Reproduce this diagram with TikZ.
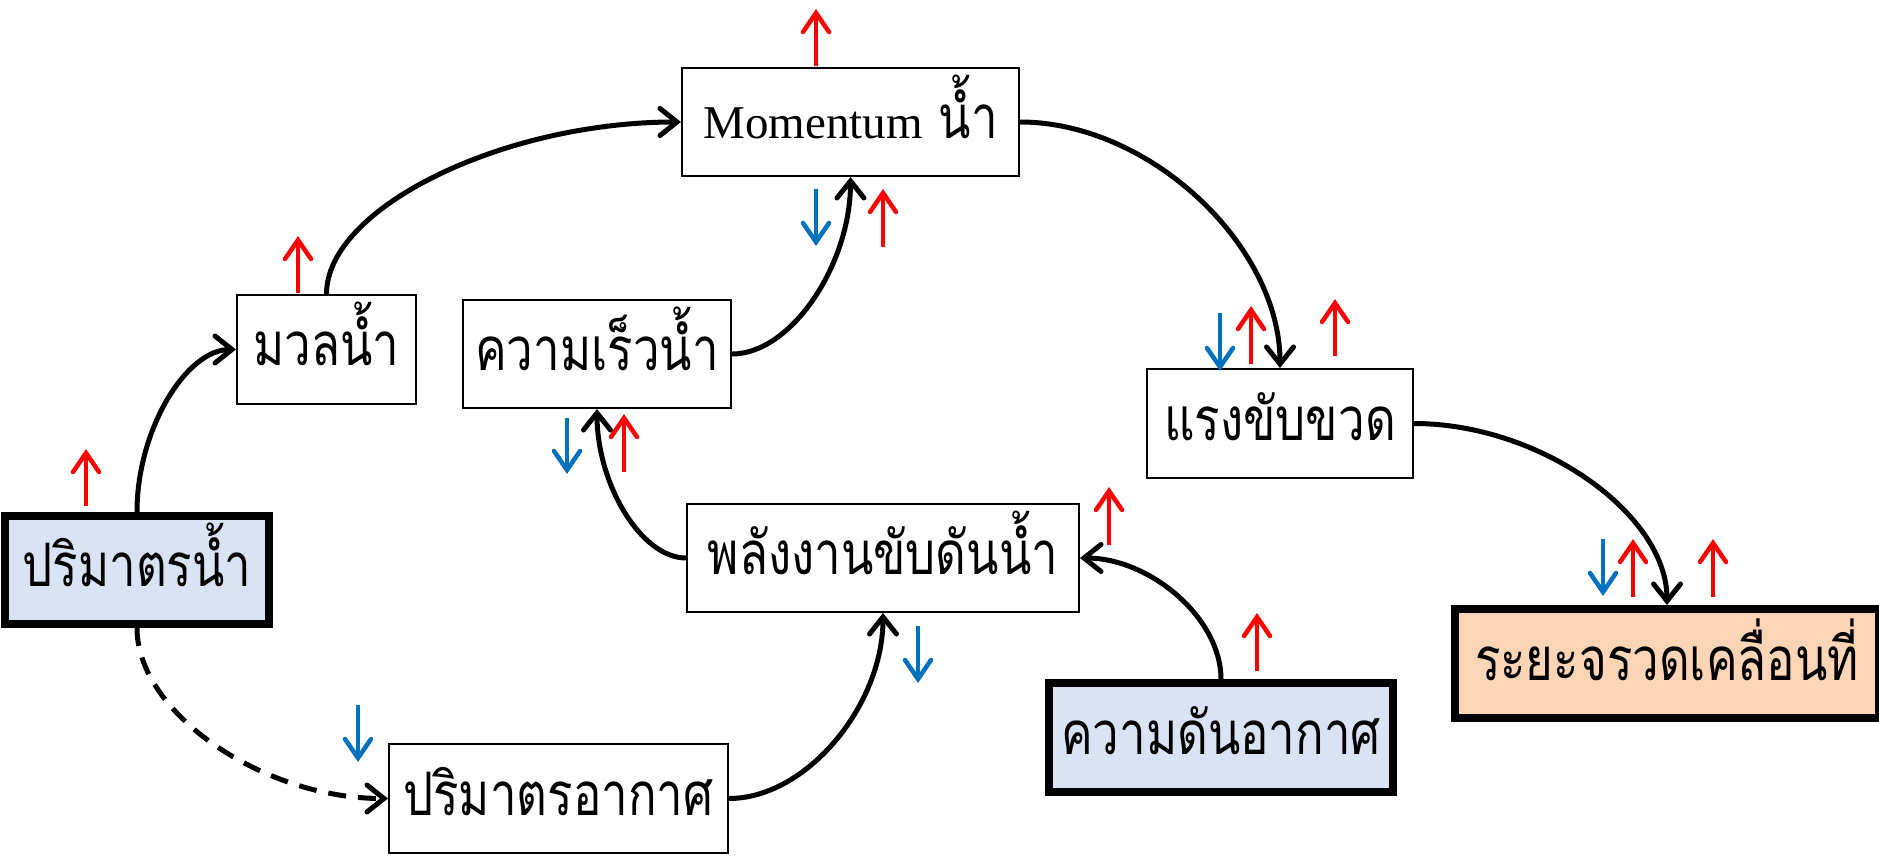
\documentclass[tikz,border=0pt]{standalone}
\usepackage{fontspec}
\setmainfont{Liberation Serif}
\newfontfamily\thai[Script=Thai,FakeStretch=0.79]{Loma}
\usetikzlibrary{arrows.meta}

\definecolor{inbox}{HTML}{DAE3F3}
\definecolor{outbox}{HTML}{FBD5B5}
\definecolor{upred}{HTML}{FF0000}
\definecolor{downblue}{HTML}{0070C0}

\tikzset{
  box/.style={draw, line width=2pt, inner sep=0pt, text height=40pt, text depth=7pt,
    font=\thai\fontsize{60pt}{70pt}\selectfont},
  keybox/.style={box, line width=8pt},
  link/.style={line width=5pt, -{Straight Barb[length=17pt,width=27pt,line cap=round]}},
  incr/.style={upred, line width=4.5pt, -{Straight Barb[length=19pt,width=26pt,line cap=round]}},
  decr/.style={incr, downblue},
}

\begin{document}
\begin{tikzpicture}[x=1pt, y=-1pt]
	\useasboundingbox (0,0) rectangle (1879,858);

	% boxes
	\node[keybox, fill=inbox, minimum width=264pt, minimum height=108pt] (vw) at (137,570) {ปริมาตรน้ำ};
	\node[box, minimum width=179pt, minimum height=109pt] (mass) at (326.5,349.5) {มวลน้ำ};
	\node[box, minimum width=337pt, minimum height=108pt] (mom) at (850.5,122) {{\rmfamily\fontsize{47pt}{56pt}\selectfont Momentum} น้ำ};
	\node[box, minimum width=268pt, minimum height=108pt] (vel) at (597,354) {ความเร็วน้ำ};
	\node[box, minimum width=266pt, minimum height=109pt] (thrust) at (1280,423.5) {แรงขับขวด};
	\node[box, minimum width=392pt, minimum height=108pt] (energy) at (883,558) {พลังงานขับดันน้ำ};
	\node[box, minimum width=339pt, minimum height=109pt] (airvol) at (558.5,798.5) {ปริมาตรอากาศ};
	\node[keybox, fill=inbox, minimum width=344pt, minimum height=109pt] (press) at (1221,737.5) {ความดันอากาศ};
	\node[keybox, fill=outbox, minimum width=424pt, minimum height=109pt] (dist) at (1667,663.5) {ระยะจรวดเคลื่อนที่};

	% links
	\draw[link] (vw.north) .. controls +(0,-82) and +(-50,0) .. (mass.west);
	\draw[link] (mass.north) .. controls +(0,-86) and +(-178,0) .. (mom.west);
	\draw[link] (mom.east) .. controls +(130,0) and +(0,-122) .. (thrust.north);
	\draw[link] (vel.east) .. controls +(59,0) and +(0,88) .. (mom.south);
	\draw[link] (energy.west) .. controls +(-45,0) and +(0,75) .. (vel.south);
	\draw[link] (airvol.east) .. controls +(77,0) and +(0,93) .. (energy.south);
	\draw[link] (press.north) .. controls +(0,-61) and +(70,0) .. (energy.east);
	\draw[link] (thrust.east) .. controls +(126,0) and +(0,-91) .. (dist.north);
	\draw[link, dash pattern=on 18pt off 12pt] (vw.south) .. controls +(0,85) and +(-125,0) .. (airvol.west);

	% up / down marks
	\draw[incr] ([shift={(-34.5,-1)}]mom.north) -- ++(0,-57);
	\draw[incr] ([shift={(-28.5,-1)}]mass.north) -- ++(0,-57);
	\draw[decr] ([shift={(-34.5,12)}]mom.south) -- ++(0,57);
	\draw[incr] ([shift={(32.5,70)}]mom.south) -- ++(0,-58);
	\draw[decr] ([shift={(-30,9)}]vel.south) -- ++(0,56);
	\draw[incr] ([shift={(27,63)}]vel.south) -- ++(0,-58);
	\draw[incr] ([shift={(-51,-6)}]vw.north) -- ++(0,-57);
	\draw[decr] ([shift={(-200.5,-38)}]airvol.north) -- ++(0,57);
	\draw[decr] ([shift={(35,13)}]energy.south) -- ++(0,57);
	\draw[incr] ([shift={(29,-13)}]energy.east) -- ++(0,-58);
	\draw[incr] ([shift={(36,-8)}]press.north) -- ++(0,-58);
	\draw[decr] ([shift={(-60,-55)}]thrust.north) -- ++(0,58);
	\draw[incr] ([shift={(-29,-4)}]thrust.north) -- ++(0,-58);
	\draw[incr] ([shift={(55,-12)}]thrust.north) -- ++(0,-57);
	\draw[decr] ([shift={(-64,-66)}]dist.north) -- ++(0,57);
	\draw[incr] ([shift={(-34,-8)}]dist.north) -- ++(0,-58);
	\draw[incr] ([shift={(46,-8)}]dist.north) -- ++(0,-58);
\end{tikzpicture}
\end{document}
